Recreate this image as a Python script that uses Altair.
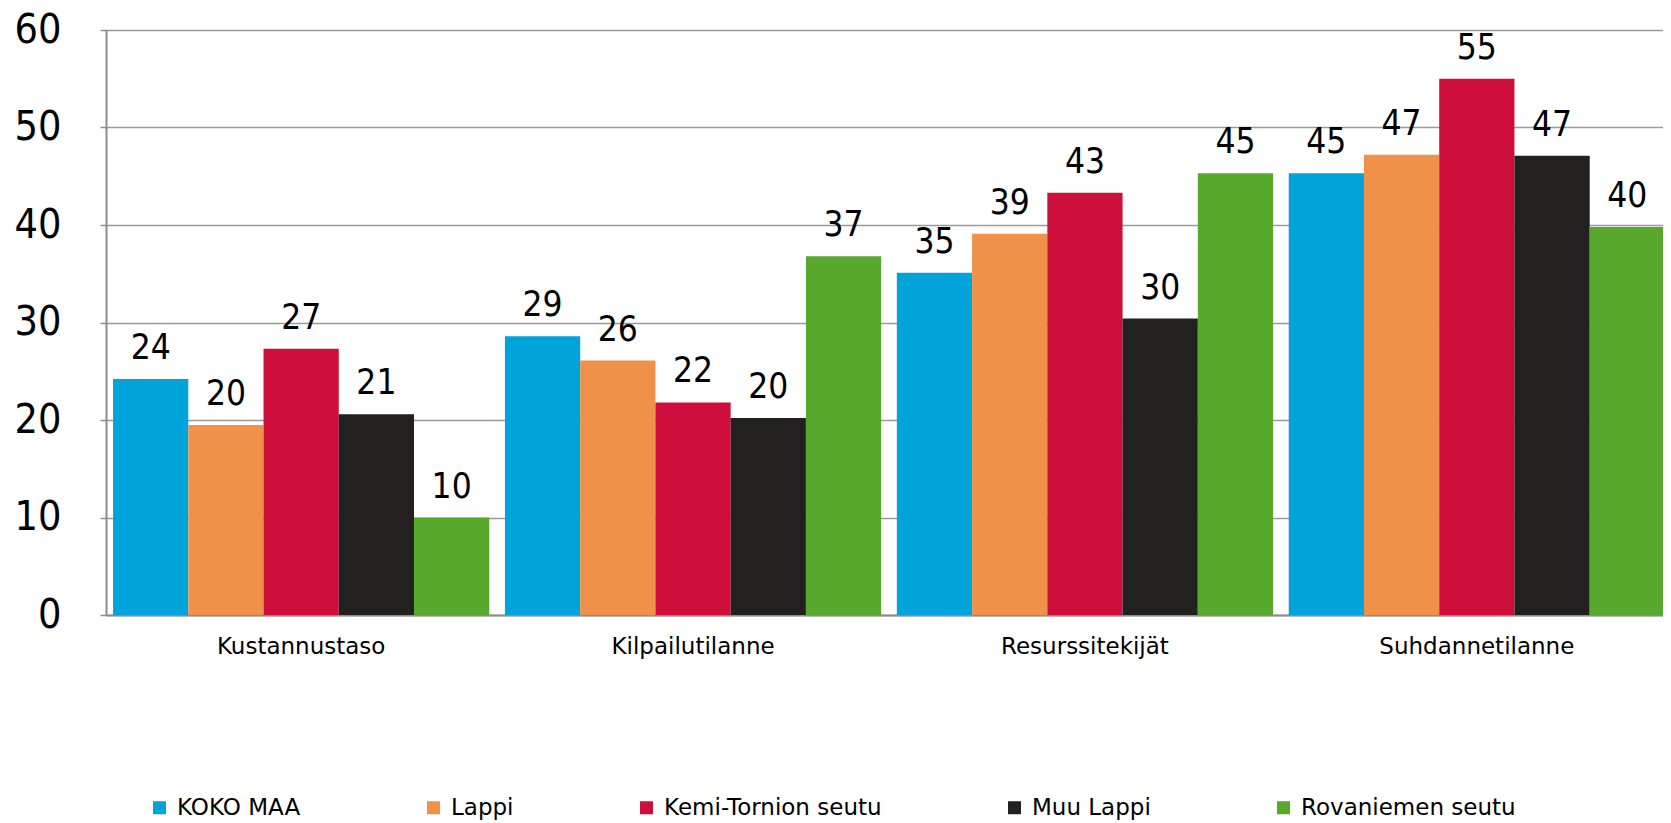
import altair as alt
import pandas as pd

categories = ["Kustannustaso", "Kilpailutilanne", "Resurssitekijät", "Suhdannetilanne"]
series = ["KOKO MAA", "Lappi", "Kemi-Tornion seutu", "Muu Lappi", "Rovaniemen seutu"]
colors = ["#00A3DA", "#F0914A", "#CE0F3C", "#222120", "#58A82E"]

koko_maa = [24.2, 28.6, 35.1, 45.3]
lappi = [19.5, 26.1, 39.1, 47.2]
kemi_tornio = [27.3, 21.8, 43.3, 55.0]
muu_lappi = [20.6, 20.2, 30.4, 47.1]
rovaniemi = [10.0, 36.8, 45.3, 39.8]

y_ticks = [0, 10, 20, 30, 40, 50, 60]

series_values = [koko_maa, lappi, kemi_tornio, muu_lappi, rovaniemi]
rows = []
for s, vals in zip(series, series_values):
    for c, v in zip(categories, vals):
        rows.append({"cat": c, "series": s, "value": v, "label": str(int(round(v)))})
df = pd.DataFrame(rows)

NUM_FONT = "DejaVu Sans Condensed"
TXT_FONT = "DejaVu Sans"

base = alt.Chart(df).encode(
    x=alt.X(
        "cat:N",
        sort=categories,
        title=None,
        scale=alt.Scale(paddingInner=0.04, paddingOuter=0.018, range=[0, 1566]),
        axis=alt.Axis(
            labelAngle=0,
            labelFontSize=23,
            labelFont=TXT_FONT,
            labelColor="#000000",
            labelPadding=20,
            labelLimit=0,
            ticks=False,
            domainColor="#8c8c8c",
            domainWidth=2,
            grid=False,
        ),
    ),
    xOffset=alt.XOffset("series:N", sort=series, scale=alt.Scale(paddingInner=0, paddingOuter=0)),
    y=alt.Y(
        "value:Q",
        title=None,
        scale=alt.Scale(domain=[0, 60], nice=False),
        axis=alt.Axis(
            values=y_ticks,
            labelFontSize=41,
            labelFont=NUM_FONT,
            labelColor="#000000",
            labelPadding=39,
            tickSize=6,
            tickColor="#8c8c8c",
            tickWidth=1.5,
            domainColor="#8c8c8c",
            domainWidth=2,
            gridColor="#9a9a9a",
            gridWidth=1.5,
        ),
    ),
)

bars = base.mark_bar().encode(
    color=alt.Color(
        "series:N",
        sort=series,
        scale=alt.Scale(domain=series, range=colors),
        legend=alt.Legend(
            title=None,
            orient="none",
            legendX=42,
            legendY=766,
            direction="horizontal",
            columns=5,
            columnPadding=121,
            symbolType="square",
            symbolSize=169,
            symbolStrokeWidth=0,
            labelFontSize=23,
            labelFont=TXT_FONT,
            labelColor="#000000",
            labelLimit=0,
            labelOffset=6,
        ),
    )
)

labels = base.mark_text(
    baseline="alphabetic", dy=-20, fontSize=35, font=NUM_FONT, color="#000000"
).encode(text="label:N")

chart = (
    alt.layer(bars, labels)
    .properties(
        width=1557,
        height=585,
        autosize=alt.AutoSizeParams(type="none"),
        padding={"left": 98, "top": 22, "right": 0, "bottom": 205},
    )
    .configure_view(stroke=None)
)

chart.save("out.html", embed_options={"renderer": "svg", "actions": False})
